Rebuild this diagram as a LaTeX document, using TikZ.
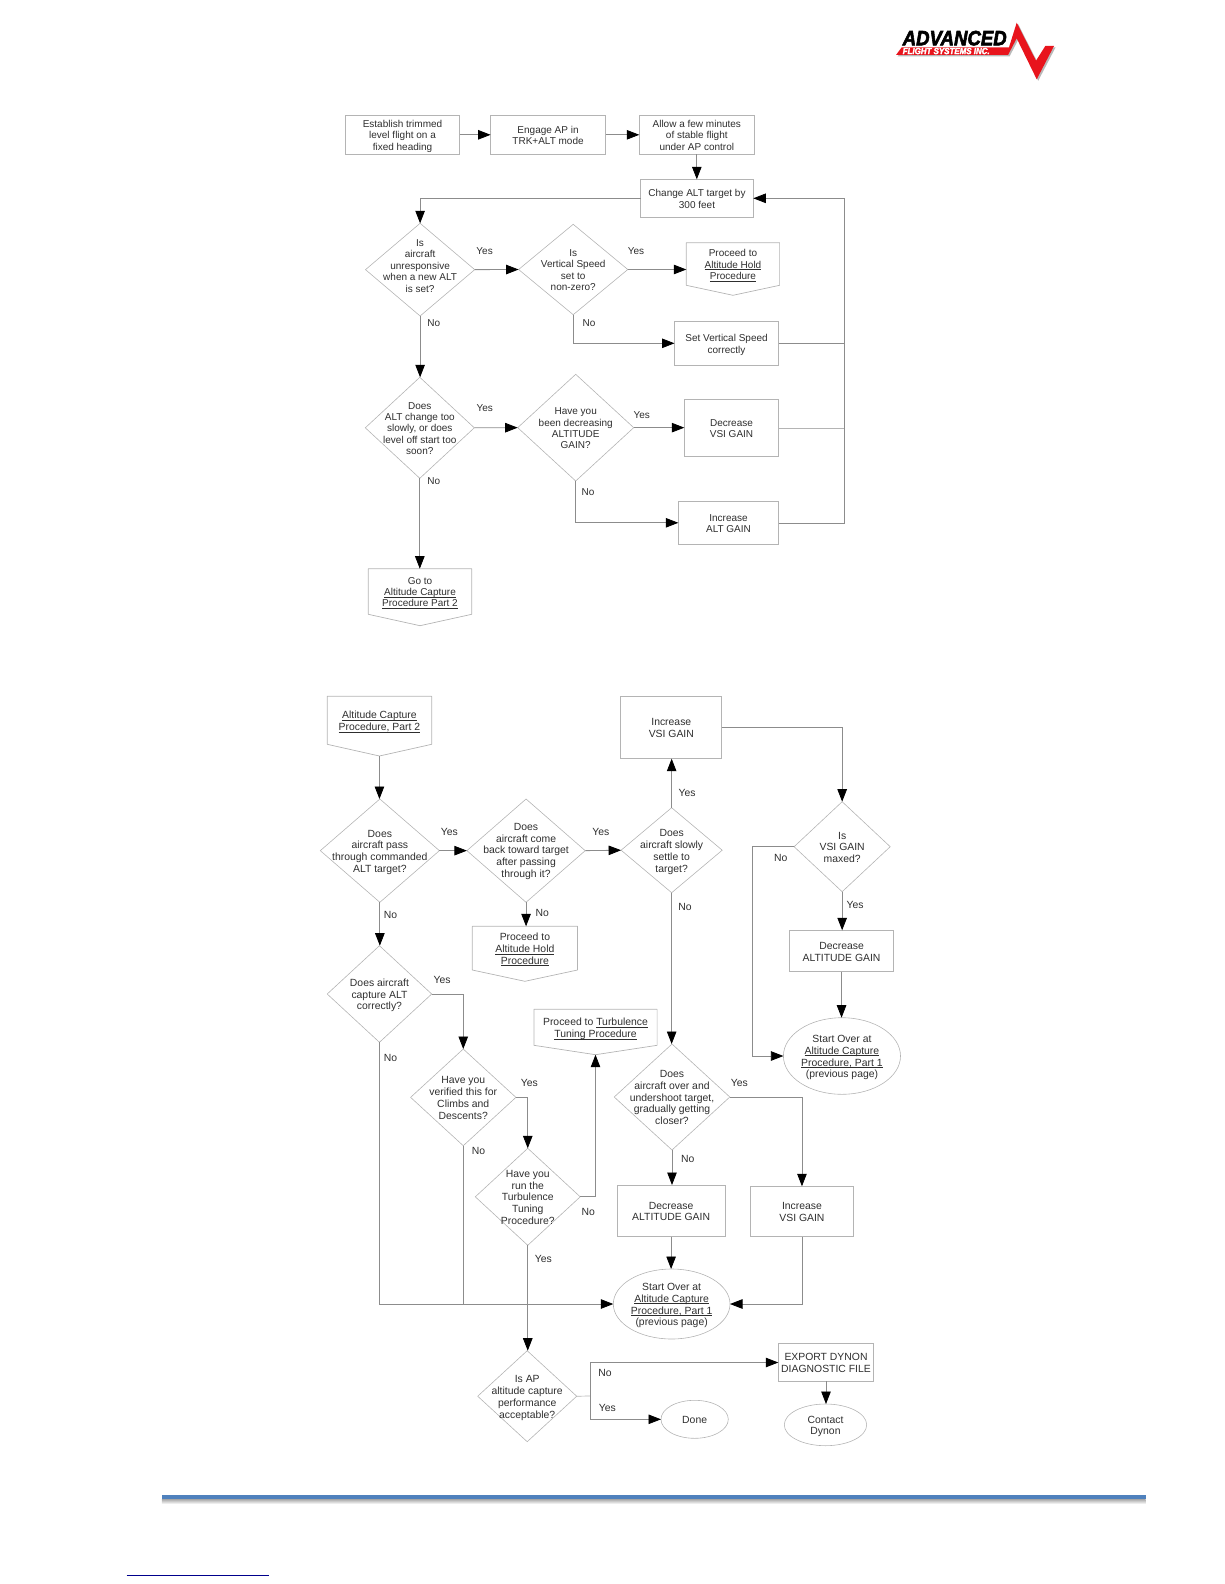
\documentclass[tikz,border=0pt]{standalone}
\usepackage{fontspec}
\usepackage{graphicx}
\usetikzlibrary{arrows.meta,shapes.geometric}
\setmainfont{Liberation Sans}
\newfontfamily\logofont[BoldItalicFeatures={FakeBold=3}]{Liberation Sans}
\definecolor{outl}{HTML}{B4B4B4}
\definecolor{conn}{HTML}{8C8C8C}
\definecolor{txtc}{HTML}{2E2E2E}
\definecolor{barblue}{HTML}{4F81BD}
\definecolor{logored}{HTML}{E8141C}
\newcommand\ctext[1]{\smash{\makebox[0pt]{\raisebox{-4.3pt}{\begin{tabular}{@{}c@{}}#1\end{tabular}}}}}
\newcommand\ul[1]{\underline{\smash{#1}}}
\newcommand\nd[7][boxn]{%
  \pgfmathsetmacro\ndcx{(#3+#5)/2}\pgfmathsetmacro\ndcy{(#4+#6)/2}%
  \pgfmathsetmacro\ndw{#5-#3}\pgfmathsetmacro\ndh{#6-#4}%
  \node[#1,minimum width=\ndw pt,minimum height=\ndh pt] (#2) at (\ndcx,\ndcy) {\ctext{#7}};}
\newcommand\op[7][]{%
  \pgfmathsetmacro\ndcx{(#3+#5)/2}\pgfmathsetmacro\ndcy{(#4+#6)/2}%
  \pgfmathsetmacro\ndw{#5-#3}\pgfmathsetmacro\ndh{#6-#4}%
  \node[plain,minimum width=\ndw pt,minimum height=\ndh pt] (#2) at (\ndcx,\ndcy) {\ctext{#7}};
  \coordinate (#2-tip) at (\ndcx,#1);
  \draw[draw=outl,line width=.7pt,line join=round] (#2.south west)--(#2.north west)--(#2.north east)--(#2.south east)--(#2-tip)--cycle;}
\tikzset{
  plain/.style={rectangle,inner sep=0pt,outer sep=0pt,text=txtc},
  boxn/.style={plain,draw=outl,line width=.8pt},
  dia/.style={diamond,inner sep=0pt,outer sep=0pt,draw=outl,line width=.6pt,text=txtc},
  ell/.style={ellipse,inner sep=0pt,outer sep=0pt,draw=outl,line width=.6pt,text=txtc},
  lb/.style={inner sep=0pt,outer sep=0pt,text=txtc},
  ln/.style={draw=conn,line width=.8pt},
  lnl/.style={draw=outl,line width=.7pt},
  arr/.style={ln,-{Triangle[length=12.5pt,width=9.5pt,black]}},
}
\begin{document}
\begin{tikzpicture}[x=1pt,y=-1pt]
\useasboundingbox (0,0) rectangle (1224,1584);
% logo
\fill[gray!55] (903.2,48.8)--(1010.5,48.8)--(1018.2,24.2)--(1037.5,62.2)--(1046.8,47.5)--(1055.5,47.5)--(1038.2,80.8)--(1018.2,39.8)--(1009.5,56.5)--(897.5,56.5)--cycle;
\fill[logored] (901.7,47.3)--(1009,47.3)--(1016.7,22.7)--(1036,60.7)--(1045.3,46)--(1054,46)--(1036.7,79.3)--(1016.7,38.3)--(1008,55)--(896,55)--cycle;
\node[lb,text=black,anchor=south west] (logotop) at (902.7,45.5) {\resizebox{104pt}{14.5pt}{\logofont\bfseries\itshape ADVANCED}};
\node[lb,text=white,anchor=south west] (logosub) at (902.7,54.2) {\resizebox{87pt}{6.2pt}{\logofont\bfseries\itshape FLIGHT SYSTEMS INC.}};
% part 1
\begin{scope}[every node/.append style={font=\fontsize{10}{11.4}\selectfont}]
\nd{pa}{345.2}{115.3}{459.8}{154.3}{Establish trimmed\\level flight on a\\fixed heading}
\nd{pb}{490.6}{115.3}{605.5}{154.3}{Engage AP in\\TRK+ALT mode}
\nd{pc}{639.3}{115.3}{754.3}{154.3}{Allow a few minutes\\of stable flight\\under AP control}
\nd{pchg}{640.7}{179.3}{753.3}{217.3}{Change ALT target by\\300 feet}
\nd[dia]{d1}{365.5}{223.3}{474.7}{316}{Is\\aircraft\\unresponsive\\when a new ALT\\is set?\\[9pt]}
\nd[dia]{d2}{518.6}{224.3}{627.8}{314.7}{Is\\Vertical Speed\\set to\\non-zero?}
\op[295.3]{pproc}{686.3}{242.7}{779.6}{285.3}{Proceed to\\\ul{Altitude Hold}\\\ul{Procedure}}
\nd{psvs}{674.5}{321.3}{778.6}{365.3}{Set Vertical Speed\\correctly}
\nd[dia]{d3}{365.3}{377.3}{474.3}{478.3}{Does\\ALT change too\\slowly, or does\\level off start too\\soon?}
\nd[dia]{d4}{517.7}{374.3}{633.7}{481}{Have you\\been decreasing\\ALTITUDE\\GAIN?}
\nd{pdv}{684.3}{399.3}{778.7}{456.7}{Decrease\\VSI GAIN}
\nd{pia}{678.3}{501.3}{778.7}{544.3}{Increase\\ALT GAIN}
\op[625.7]{pgo}{368.3}{568.7}{471.7}{614.3}{Go to\\\ul{Altitude Capture}\\\ul{Procedure Part 2}}
\node[lb] (l1) at (484.6,250.7) {Yes};
\node[lb] (l2) at (636,250.7) {Yes};
\node[lb] (l3) at (433.8,323.3) {No};
\node[lb] (l4) at (589,323.3) {No};
\node[lb] (l5) at (484.7,408) {Yes};
\node[lb] (l6) at (641.7,415.3) {Yes};
\node[lb] (l7) at (433.7,480.7) {No};
\node[lb] (l8) at (588,491.7) {No};
\end{scope}
\coordinate (busT) at (844.7,198.3);
\coordinate (busB) at (844.7,523);
\draw[arr] (pa.east)--(pb.west);
\draw[arr] (pb.east)--(pc.west);
\draw[arr] (pc.south)--(pc.south |- pchg.north);
\draw[arr] (pchg.west)-|(d1.north);
\draw[arr] (d1.east)--(d2.west);
\draw[arr] (d2.east)--(d2.east -| pproc.west);
\draw[arr] (d2.south)|-(psvs.west);
\draw[ln] (psvs.east)--(psvs.east -| busT);
\draw[arr] (d1.south)--(d1.south |- d3.north);
\draw[arr] (d3.east)--(d4.west);
\draw[arr] (d4.east)--(d4.east -| pdv.west);
\draw[arr] (d4.south)|-(pia.west);
\draw[lnl] (pdv.east)--(pdv.east -| busT);
\draw[arr] (pia.east |- busB)--(busB)--(busT)--(pchg.east);
\draw[arr] (d3.south)--(d3.south |- pgo.north);
% part 2
\begin{scope}[every node/.append style={font=\fontsize{10.4}{11.8}\selectfont}]
\op[756]{qcap}{327.2}{696.3}{431.7}{744.3}{\ul{Altitude Capture}\\\ul{Procedure, Part 2}}
\nd[dia]{da}{320.3}{799}{439.4}{902.3}{Does\\aircraft pass\\through commanded\\ALT target?}
\nd[dia]{db}{466.9}{799}{585.2}{902.3}{Does\\aircraft come\\back toward target\\after passing\\through it?\\[2pt]}
\nd[dia]{dc}{621.1}{807.7}{722.2}{892.7}{Does\\aircraft slowly\\settle to\\target?}
\nd{qiv}{620.8}{696.3}{721.8}{758.7}{Increase\\VSI GAIN}
\nd[dia]{dd}{794.1}{801.7}{890.2}{891.7}{Is\\VSI GAIN\\maxed?}
\nd{qda}{789.5}{930.3}{893.6}{971.7}{Decrease\\ALTITUDE GAIN}
\op[981.3]{qhold}{472.3}{926.3}{577.5}{970}{Proceed to\\\ul{Altitude Hold}\\\ul{Procedure}}
\nd[dia]{de}{327.2}{945.7}{431.7}{1042.3}{Does aircraft\\capture ALT\\correctly?}
\nd[dia]{df}{410.6}{1049}{515.9}{1145.7}{Have you\\verified this for\\Climbs and\\Descents?}
\nd[dia]{dg}{475.3}{1148.3}{580.2}{1245.3}{Have you\\run the\\Turbulence\\Tuning\\Procedure?}
\op[1054.7]{qturb}{533.9}{1009.3}{657.1}{1045.3}{Proceed to \ul{Turbulence}\\\ul{Tuning Procedure}}
\nd[dia]{dh}{614.2}{1044}{729.8}{1150}{Does\\aircraft over and\\undershoot target,\\gradually getting\\closer?}
\nd{qda2}{617.3}{1185}{724.9}{1236.7}{Decrease\\ALTITUDE GAIN}
\nd{qiv2}{750.1}{1186.3}{853.8}{1236.7}{Increase\\VSI GAIN}
\nd[ell]{qs2}{783.4}{1017.7}{900.5}{1094.3}{Start Over at\\\ul{Altitude Capture}\\\ul{Procedure, Part 1}\\(previous page)}
\nd[ell]{qs1}{613.3}{1269}{730}{1339}{Start Over at\\\ul{Altitude Capture}\\\ul{Procedure, Part 1}\\(previous page)}
\nd[dia]{di}{477.7}{1350.7}{576.7}{1441.7}{Is AP\\altitude capture\\performance\\acceptable?}
\nd{qex}{778.3}{1343.7}{873.7}{1381.3}{EXPORT DYNON\\DIAGNOSTIC FILE}
\nd[ell]{qct}{784.3}{1404}{866.7}{1445.7}{Contact\\Dynon}
\nd[ell]{qdn}{661}{1400.3}{728.3}{1438.3}{Done}
\node[lb] (m1) at (449.3,832.3) {Yes};
\node[lb] (m2) at (600.9,832.3) {Yes};
\node[lb] (m3) at (687,793.3) {Yes};
\node[lb] (m4) at (780.7,858) {No};
\node[lb] (m5) at (855,905) {Yes};
\node[lb] (m6) at (390.4,914.7) {No};
\node[lb] (m7) at (542.3,912.7) {No};
\node[lb] (m8) at (685,907) {No};
\node[lb] (m9) at (442,979.7) {Yes};
\node[lb] (m10) at (390.4,1058.3) {No};
\node[lb] (m11) at (529.3,1083.3) {Yes};
\node[lb] (m12) at (478.4,1151.3) {No};
\node[lb] (m13) at (588.2,1211.7) {No};
\node[lb] (m14) at (739.4,1083.3) {Yes};
\node[lb] (m15) at (687.7,1159) {No};
\node[lb] (m16) at (543.3,1258.5) {Yes};
\node[lb] (m17) at (605,1373.3) {No};
\node[lb] (m18) at (607.3,1408) {Yes};
\end{scope}
\coordinate (jog) at (752.8,846.7);
\coordinate (split) at (590.7,1396);
\draw[arr] (qcap-tip)--(qcap-tip |- da.north);
\draw[arr] (da.east)--(db.west);
\draw[arr] (db.east)--(dc.west);
\draw[arr] (dc.north)--(dc.north |- qiv.south);
\draw[arr] (qiv.east)-|(dd.north);
\draw[arr] (dd.south)--(dd.south |- qda.north);
\draw[arr] (dd.west)--(jog)|-(qs2.west);
\draw[arr] (qda.south)--(qda.south |- qs2.north);
\draw[arr] (db.south)--(db.south |- qhold.north);
\draw[arr] (dc.south)--(dc.south |- dh.north);
\draw[arr] (da.south)--(da.south |- de.north);
\draw[arr] (de.east)-|(df.north);
\draw[arr] (df.east)-|(dg.north);
\draw[arr] (dg.east)-|(qturb-tip);
\draw[arr] (dh.south)--(dh.south |- qda2.north);
\draw[arr] (dh.east)-|(qiv2.north);
\draw[arr] (qda2.south)--(qda2.south |- qs1.north);
\draw[arr] (qiv2.south)|-(qs1.east);
\draw[arr] (de.south)|-(qs1.west);
\draw[ln] (df.south)--(df.south |- qs1.west);
\draw[arr] (dg.south)--(dg.south |- di.north);
\draw[lnl] (di.east)--(split);
\draw[arr] (split)|-(qex.west);
\draw[arr] (split)|-(qdn.west);
\draw[arr] (qex.south)--(qex.south |- qct.north);
% footer
\shade[top color=gray!65,bottom color=white] (161.8,1499.3) rectangle (1145.6,1504);
\fill[barblue] (161.8,1495) rectangle (1145.6,1499.3);
\draw[draw=blue!55!black,line width=1.2pt] (126.7,1575.3)--(269,1575.3);
\end{tikzpicture}
\end{document}
